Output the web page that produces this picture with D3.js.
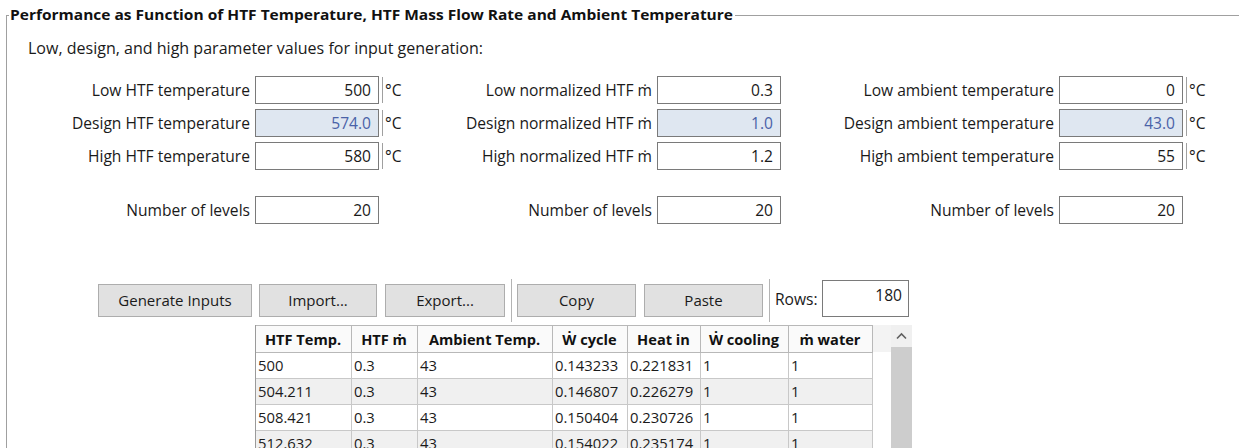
<!DOCTYPE html>
<html>
<head>
<meta charset="utf-8">
<script src="https://cdn.jsdelivr.net/npm/d3@7"></script>
<style>
  body { margin: 0; background: #fff; }
  svg text { font-family: "Open Sans", "Noto Sans", sans-serif; }
</style>
</head>
<body>
<div id="panel"></div>
<script>
// text content of the panel
const title = "Performance as Function of HTF Temperature, HTF Mass Flow Rate and Ambient Temperature";
const subtitle = "Low, design, and high parameter values for input generation:";

// input fields, one entry per column
const paramNames = ["HTF temperature", "normalized HTF ṁ", "ambient temperature"];
const levelNames = ["Low", "Design", "High"];
const lowValues = ["500", "0.3", "0"];
const designValues = ["574.0", "1.0", "43.0"];
const highValues = ["580", "1.2", "55"];
const levelCounts = ["20", "20", "20"];
const units = ["°C", "", "°C"];

// toolbar
const buttonLabels = ["Generate Inputs", "Import...", "Export...", "Copy", "Paste"];
const rowsValue = "180";

// table
const tableHeaders = ["HTF Temp.", "HTF ṁ", "Ambient Temp.", "Ẇ cycle", "Heat in", "Ẇ cooling", "ṁ water"];
const htfTemp = ["500", "504.211", "508.421", "512.632"];
const htfFlow = ["0.3", "0.3", "0.3", "0.3"];
const ambientTemp = ["43", "43", "43", "43"];
const wCycle = ["0.143233", "0.146807", "0.150404", "0.154022"];
const heatIn = ["0.221831", "0.226279", "0.230726", "0.235174"];
const wCooling = ["1", "1", "1", "1"];
const mWater = ["1", "1", "1", "1"];

const W = 1239, H = 448;
const fontSize = 15.6;

const svg = d3.select("#panel")
  .append("svg")
    .attr("width", W)
    .attr("height", H);

svg.append("rect").attr("width", W).attr("height", H).attr("fill", "#fff");

// group box frame + title
svg.append("text")
    .attr("x", 10)
    .attr("y", 15)
    .attr("dy", "0.35em")
    .attr("font-weight", "bold")
    .attr("font-size", 15)
    .attr("fill", "#111")
    .text(title)
    .attr("textLength", 723).attr("lengthAdjust", "spacingAndGlyphs");

svg.append("path")
    .attr("d", `M735,15.5H${W} M6.5,15.5H9 M6.5,15V${H}`)
    .attr("fill", "none")
    .attr("stroke", "#a0a0a0");

svg.append("text")
    .attr("x", 28)
    .attr("y", 49)
    .attr("dy", "0.35em")
    .attr("font-size", fontSize)
    .attr("fill", "#1a1a1a")
    .text(subtitle)
    .attr("textLength", 455).attr("lengthAdjust", "spacingAndGlyphs");

// input field grid
const colX = d3.scaleLinear().domain([0, 2]).range([255, 1059]);
const rowY = d3.scaleLinear().domain([0, 2]).range([76, 142]);
const boxW = 123, boxH = 27;

const fields = [];
paramNames.forEach((p, i) => {
  fields.push({col: i, row: 0, label: `${levelNames[0]} ${p}`, value: lowValues[i], unit: units[i], design: false});
  fields.push({col: i, row: 1, label: `${levelNames[1]} ${p}`, value: designValues[i], unit: units[i], design: true});
  fields.push({col: i, row: 2, label: `${levelNames[2]} ${p}`, value: highValues[i], unit: units[i], design: false});
  fields.push({col: i, row: 3.636, label: "Number of levels", value: levelCounts[i], unit: "", design: false});
});

const field = svg.selectAll(".field")
  .data(fields)
  .join("g")
    .attr("class", "field")
    .attr("transform", d => `translate(${colX(d.col)},${Math.round(rowY(d.row))})`);

field.append("rect")
    .attr("x", 0.5).attr("y", 0.5)
    .attr("width", boxW).attr("height", boxH)
    .attr("fill", d => d.design ? "#dfe7f1" : "#fff")
    .attr("stroke", "#7a7a7a");

field.append("text")
    .attr("x", -5)
    .attr("y", boxH / 2 + 1)
    .attr("dy", "0.35em")
    .attr("text-anchor", "end")
    .attr("font-size", fontSize)
    .attr("fill", "#1a1a1a")
    .text(d => d.label);

field.append("text")
    .attr("x", boxW - 7)
    .attr("y", boxH / 2 + 1)
    .attr("dy", "0.35em")
    .attr("text-anchor", "end")
    .attr("font-size", fontSize)
    .attr("fill", d => d.design ? "#4a62a8" : "#1a1a1a")
    .text(d => d.value);

const withUnit = field.filter(d => d.unit);
withUnit.append("line")
    .attr("x1", boxW + 4.5).attr("x2", boxW + 4.5)
    .attr("y1", 1).attr("y2", boxH)
    .attr("stroke", "#a0a0a0");
withUnit.append("text")
    .attr("x", boxW + 7)
    .attr("y", boxH / 2 + 1)
    .attr("dy", "0.35em")
    .attr("font-size", fontSize)
    .attr("fill", "#1a1a1a")
    .text(d => d.unit);

// toolbar buttons
const buttonX = [98, 259, 385, 517, 644];
const buttonW = [154, 118, 120, 119, 119];
const btnTop = 284, btnH = 32;

const btn = svg.selectAll(".btn")
  .data(buttonLabels)
  .join("g")
    .attr("class", "btn")
    .attr("transform", (d, i) => `translate(${buttonX[i]},${btnTop})`);
btn.append("rect")
    .attr("x", 0.5).attr("y", 0.5)
    .attr("width", (d, i) => buttonW[i] - 1).attr("height", btnH)
    .attr("fill", "#e1e1e1")
    .attr("stroke", "#adadad");
btn.append("text")
    .attr("x", (d, i) => buttonW[i] / 2)
    .attr("y", btnH / 2 + 1)
    .attr("dy", "0.35em")
    .attr("text-anchor", "middle")
    .attr("font-size", 15)
    .attr("fill", "#1a1a1a")
    .text(d => d);

svg.selectAll(".sep")
  .data([511.5, 769.5])
  .join("line")
    .attr("class", "sep")
    .attr("x1", d => d).attr("x2", d => d)
    .attr("y1", 279).attr("y2", 322)
    .attr("stroke", "#b4b4b4");

svg.append("text")
    .attr("x", 775)
    .attr("y", 300)
    .attr("dy", "0.35em")
    .attr("font-size", fontSize)
    .attr("fill", "#1a1a1a")
    .text("Rows:");
svg.append("rect")
    .attr("x", 822.5).attr("y", 280.5)
    .attr("width", 86).attr("height", 36)
    .attr("fill", "#fff")
    .attr("stroke", "#7a7a7a");
svg.append("text")
    .attr("x", 902)
    .attr("y", 296)
    .attr("dy", "0.35em")
    .attr("text-anchor", "end")
    .attr("font-size", fontSize)
    .attr("fill", "#1a1a1a")
    .text(rowsValue);

// table
const colWidths = [96, 66, 135, 75, 73, 88, 84];
const tableLeft = 255, headTop = 325, headH = 27, rowH = 26;
const colEdges = [tableLeft, ...d3.cumsum(colWidths).map(v => v + tableLeft)];
const tableRight = colEdges[colEdges.length - 1];

const columns = [htfTemp, htfFlow, ambientTemp, wCycle, heatIn, wCooling, mWater];
const rows = d3.range(htfTemp.length).map(r => columns.map(c => c[r]));

const rowScale = d3.scaleBand()
  .domain(d3.range(rows.length + 1))
  .range([headTop + headH, headTop + headH + rowH * (rows.length + 1)]);

// header band and scrollbar
svg.append("rect")
    .attr("x", tableRight).attr("y", headTop)
    .attr("width", 40).attr("height", headH)
    .attr("fill", "#f3f3f3");
svg.append("rect")
    .attr("x", 891).attr("y", headTop)
    .attr("width", 21).attr("height", 22)
    .attr("fill", "#f0f0f0");
svg.append("path")
    .attr("d", "M897,338.5L901.5,334L906,338.5")
    .attr("fill", "none")
    .attr("stroke", "#606060")
    .attr("stroke-width", 1.6);
svg.append("rect")
    .attr("x", 891).attr("y", 347)
    .attr("width", 21).attr("height", H - 347)
    .attr("fill", "#cdcdcd");

const rowG = svg.selectAll(".row")
  .data(rows)
  .join("g")
    .attr("class", "row")
    .attr("transform", (d, i) => `translate(0,${rowScale(i)})`);

rowG.selectAll("rect")
  .data((d, i) => d.map((v, j) => ({v, j, i})))
  .join("rect")
    .attr("x", d => colEdges[d.j] + 0.5)
    .attr("y", 0.5)
    .attr("width", d => colWidths[d.j])
    .attr("height", rowH)
    .attr("fill", d => d.i % 2 ? "#f0f0f0" : "#fff")
    .attr("stroke", "#c8c8c8");

rowG.selectAll("text")
  .data(d => d.map((v, j) => ({v, j})))
  .join("text")
    .attr("x", d => colEdges[d.j] + 3)
    .attr("y", rowH / 2 + 1)
    .attr("dy", "0.35em")
    .attr("font-size", 14.8)
    .attr("fill", "#1a1a1a")
    .text(d => d.v);

const head = svg.selectAll(".head")
  .data(tableHeaders)
  .join("g")
    .attr("class", "head")
    .attr("transform", (d, i) => `translate(${colEdges[i]},${headTop})`);
head.append("rect")
    .attr("x", 0.5).attr("y", 0.5)
    .attr("width", (d, i) => colWidths[i]).attr("height", headH)
    .attr("fill", "#fafafa")
    .attr("stroke", "#b8b8b8");
head.append("text")
    .attr("x", (d, i) => colWidths[i] / 2)
    .attr("y", headH / 2 + 1)
    .attr("dy", "0.35em")
    .attr("text-anchor", "middle")
    .attr("font-weight", "bold")
    .attr("font-size", 14.6)
    .attr("fill", "#111")
    .text(d => d);

// left edge of the table is a bit darker
svg.append("line")
    .attr("x1", tableLeft + 0.5).attr("x2", tableLeft + 0.5)
    .attr("y1", headTop).attr("y2", H)
    .attr("stroke", "#9a9a9a");
</script>
</body>
</html>
